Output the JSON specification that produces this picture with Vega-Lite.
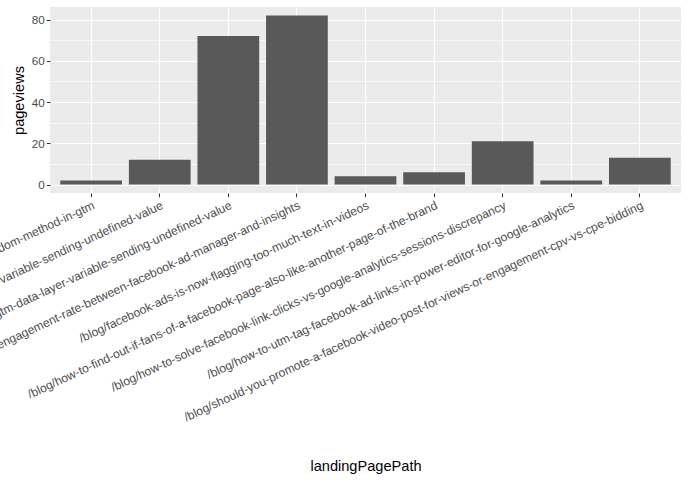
{
  "$schema": "https://vega.github.io/schema/vega-lite/v6.json",
  "width": 631,
  "height": 186,
  "autosize": {"type": "none"},
  "padding": {"left": 50, "top": 7, "right": 8, "bottom": 292},
  "background": "white",
  "config": {
    "view": {"fill": "#EBEBEB", "stroke": null},
    "font": "Liberation Sans"
  },
  "data": {
    "values": [
      {"landingPagePath": "/blog/ab-test-with-math-random-method-in-gtm", "pageviews": 2},
      {"landingPagePath": "/blog/custom-javascript-variable-sending-undefined-value", "pageviews": 12},
      {"landingPagePath": "/blog/debug-gtm-data-layer-variable-sending-undefined-value", "pageviews": 72},
      {"landingPagePath": "/blog/difference-in-engagement-rate-between-facebook-ad-manager-and-insights", "pageviews": 82},
      {"landingPagePath": "/blog/facebook-ads-is-now-flagging-too-much-text-in-videos", "pageviews": 4},
      {"landingPagePath": "/blog/how-to-find-out-if-fans-of-a-facebook-page-also-like-another-page-of-the-brand", "pageviews": 6},
      {"landingPagePath": "/blog/how-to-solve-facebook-link-clicks-vs-google-analytics-sessions-discrepancy", "pageviews": 21},
      {"landingPagePath": "/blog/how-to-utm-tag-facebook-ad-links-in-power-editor-for-google-analytics", "pageviews": 2},
      {"landingPagePath": "/blog/should-you-promote-a-facebook-video-post-for-views-or-engagement-cpv-vs-cpe-bidding", "pageviews": 13}
    ]
  },
  "encoding": {
    "x": {
      "field": "landingPagePath",
      "type": "nominal",
      "sort": null,
      "scale": {"paddingInner": 0.1, "paddingOuter": 0.15},
      "axis": {
        "bandPosition": 0.5,
        "grid": true,
        "gridColor": "white",
        "gridWidth": 1.2,
        "domain": false,
        "tickColor": "#333333",
        "tickSize": 3.7,
        "tickWidth": 1,
        "labelAngle": -25,
        "labelAlign": "right",
        "labelBaseline": "top",
        "labelLimit": 0,
        "labelFontSize": 12.1,
        "labelColor": "#4D4D4D",
        "labelPadding": 2,
        "title": "landingPagePath",
        "titleFontSize": 14.6,
        "titleFontWeight": "normal",
        "titleColor": "black",
        "titlePadding": 65
      }
    }
  },
  "layer": [
    {
      "mark": {"type": "bar", "color": "#595959"},
      "encoding": {
        "y": {
          "field": "pageviews",
          "type": "quantitative",
          "scale": {"domain": [-4.1, 86.1], "nice": false, "zero": false},
          "axis": {
            "orient": "left",
            "values": [0, 20, 40, 60, 80],
            "grid": true,
            "gridColor": "white",
            "gridWidth": 1.2,
            "domain": false,
            "tickColor": "#333333",
            "tickSize": 3.7,
            "labelFontSize": 11.7,
            "labelColor": "#4D4D4D",
            "labelPadding": 2,
            "title": "pageviews",
            "titleFontSize": 14.6,
            "titleFontWeight": "normal",
            "titleColor": "black",
            "titlePadding": 5
          }
        },
        "y2": {"datum": 0}
      }
    },
    {
      "mark": {"type": "bar", "opacity": 0},
      "encoding": {
        "y": {
          "field": "pageviews",
          "type": "quantitative",
          "axis": {
            "orient": "right",
            "values": [10, 30, 50, 70],
            "grid": true,
            "gridColor": "white",
            "gridWidth": 0.6,
            "labels": false,
            "ticks": false,
            "domain": false,
            "title": null
          }
        },
        "y2": {"datum": 0}
      }
    }
  ],
  "resolve": {"axis": {"y": "independent"}}
}
